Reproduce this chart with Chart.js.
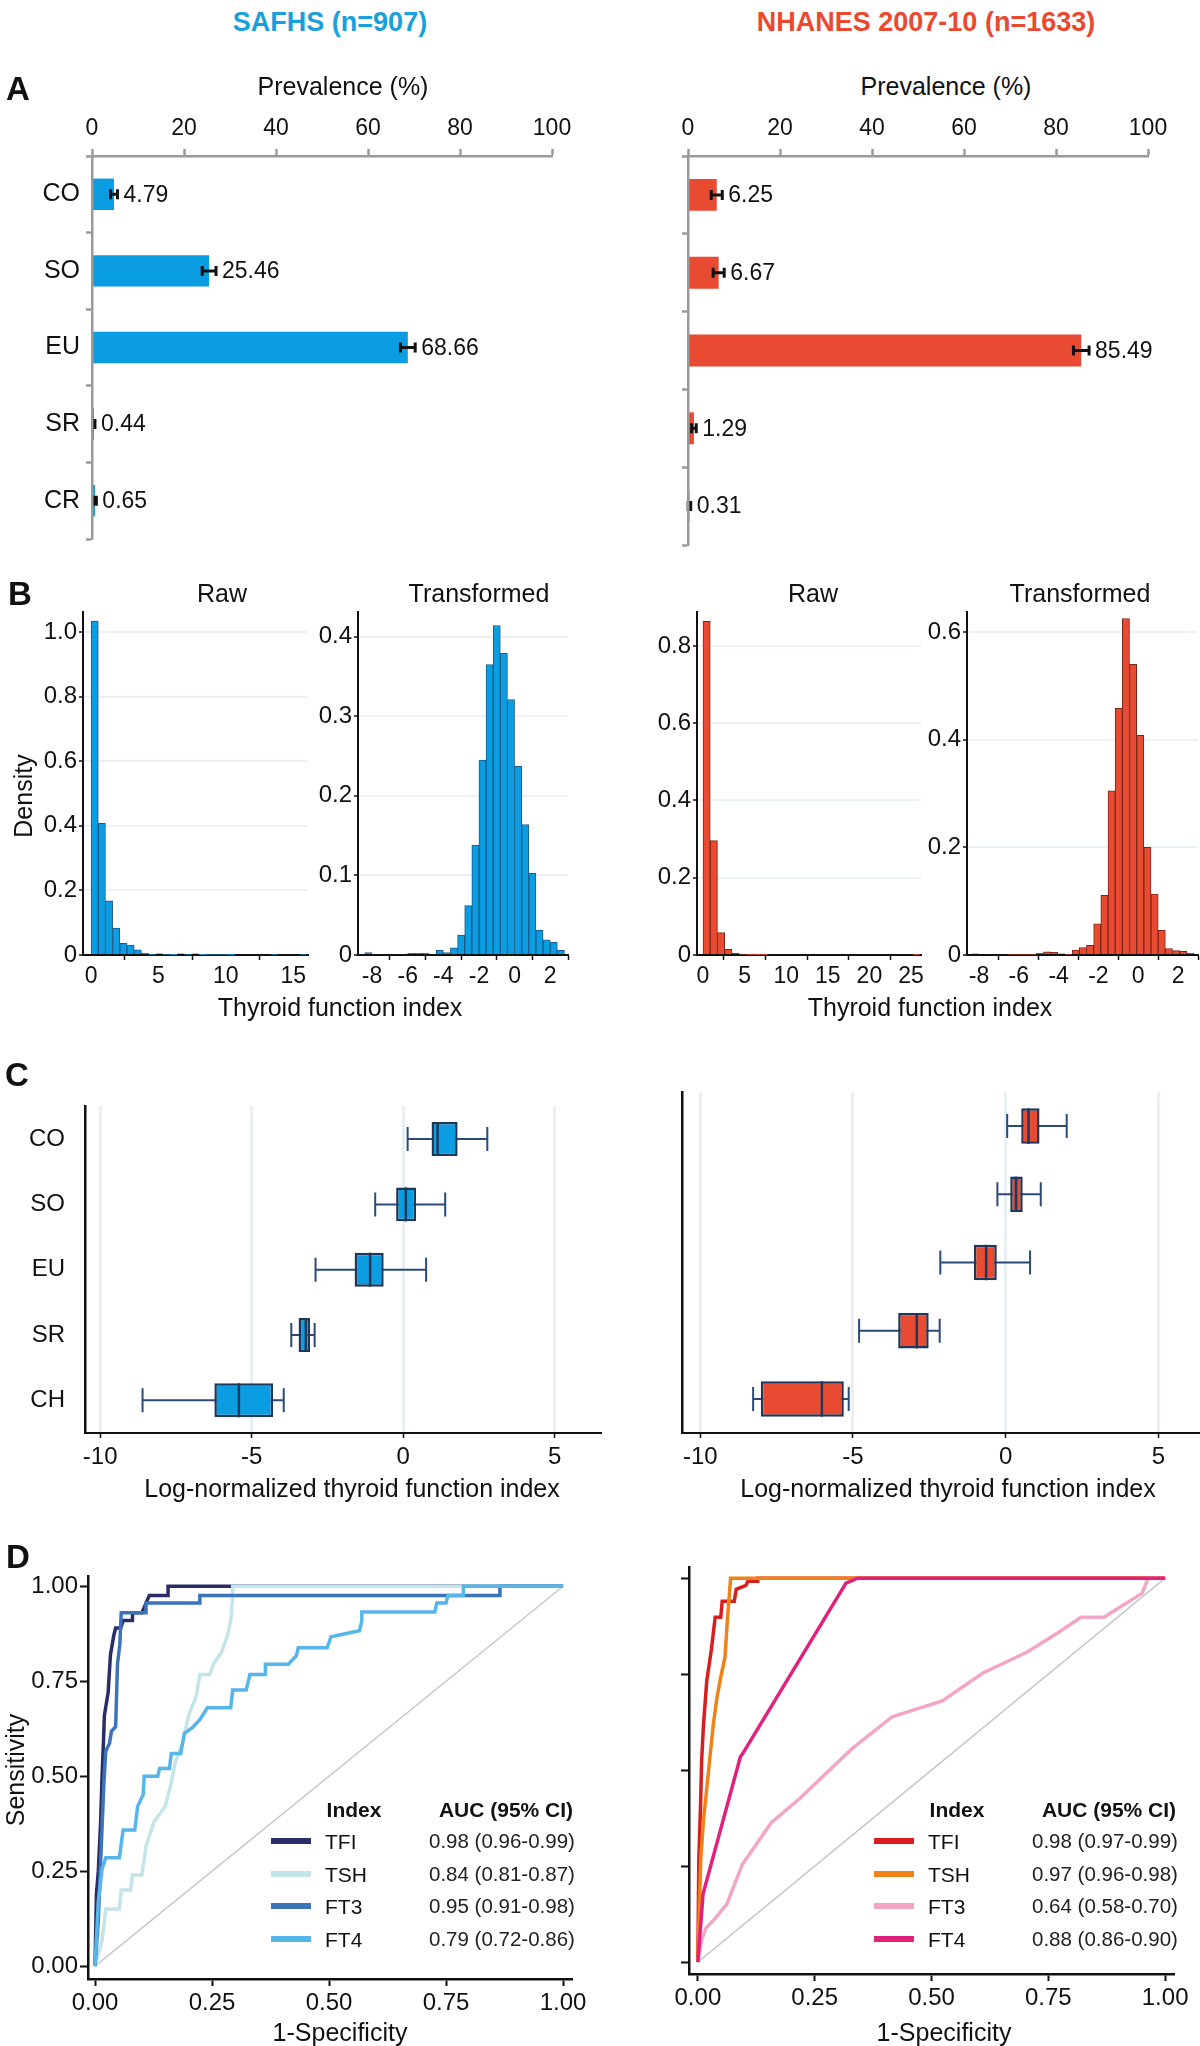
<!DOCTYPE html>
<html>
<head>
<meta charset="utf-8">
<script src="https://cdn.jsdelivr.net/npm/chart.js@4.4.1/dist/chart.umd.min.js"></script>
<style>
  html, body { margin: 0; padding: 0; background: #fff; }
  #fig { position: relative; width: 1200px; height: 2046px; overflow: hidden;
         font-family: 'Liberation Sans', Arial, Helvetica, sans-serif; color: #111; }
  #fig canvas { position: absolute; }
  .t { position: absolute; white-space: nowrap; line-height: 1; transform: translate(-50%, -50%); }
  .sw { position: absolute; height: 6px; width: 40px; transform: translateY(-50%); }
</style>
</head>
<body>
<div id="fig"></div>
<script>
// ---- panel A: prevalence (%) ----
const prevCats = ['CO', 'SO', 'EU', 'SR', 'CR'];
const safhsPrev = [4.79, 25.46, 68.66, 0.44, 0.65];
const safhsErr = [0.75, 1.5, 1.6, 0.2, 0.3];
const nhanesPrev = [6.25, 6.67, 85.49, 1.29, 0.31];
const nhanesErr = [1.2, 1.2, 1.7, 0.5, 0.28];

// ---- panel B: histograms (bin centre, density) ----
const safhsRawBins = [0.267, 0.8, 1.333, 1.867, 2.4, 2.933, 3.467, 4.0, 4.533, 5.067, 5.6, 6.133, 6.667, 7.2, 7.733,
  8.267, 8.8, 9.333, 9.867, 10.4, 10.933, 11.467, 12.0, 12.533, 13.067, 13.6, 14.133, 14.667, 15.2, 15.733];
const safhsRawDens = [1.034, 0.408, 0.168, 0.083, 0.036, 0.031, 0.016, 0.006, 0.002, 0.004, 0.002, 0.001, 0.004, 0.002, 0.004,
  0.001, 0.002, 0.002, 0.002, 0.001, 0, 0, 0, 0, 0, 0.002, 0, 0, 0, 0.002];
const safhsTrBins = [-9.0, -8.6, -8.2, -7.8, -7.4, -7.0, -6.6, -6.2, -5.8, -5.4, -5.0, -4.6, -4.2, -3.8, -3.4,
  -3.0, -2.6, -2.2, -1.8, -1.4, -1.0, -0.6, -0.2, 0.2, 0.6, 1.0, 1.4, 1.8, 2.2, 2.6];
const safhsTrDens = [0, 0, 0.003, 0, 0, 0, 0, 0, 0.002, 0.002, 0.002, 0, 0.006, 0.003, 0.009,
  0.025, 0.062, 0.138, 0.245, 0.365, 0.414, 0.379, 0.321, 0.237, 0.164, 0.103, 0.031, 0.019, 0.016, 0.006];
const nhanesRawBins = [0.435, 1.305, 2.175, 3.045, 3.915, 4.785, 5.655, 6.525, 7.395, 8.265, 9.135, 10.005, 10.875, 11.745, 12.615,
  13.485, 14.355, 15.225, 16.095, 16.965, 17.835, 18.705, 19.575, 20.445, 21.315, 22.185, 23.055, 23.925, 24.795, 25.665];
const nhanesRawDens = [0.864, 0.296, 0.058, 0.015, 0.004, 0.002, 0.001, 0.001, 0.001, 0, 0, 0, 0, 0, 0,
  0, 0, 0, 0, 0, 0, 0, 0, 0, 0, 0, 0, 0, 0, 0.0005];
const nhanesTrBins = [-8.54, -8.18, -7.82, -7.46, -7.1, -6.74, -6.38, -6.02, -5.66, -5.3, -4.94, -4.58, -4.22, -3.86, -3.5, -3.14,
  -2.78, -2.42, -2.06, -1.7, -1.34, -0.98, -0.62, -0.26, 0.1, 0.46, 0.82, 1.18, 1.54, 1.9, 2.26, 2.62];
const nhanesTrDens = [0, 0.002, 0, 0, 0, 0, 0.001, 0.001, 0.001, 0.001, 0.003, 0.006, 0.005, 0.002, 0.001, 0.009,
  0.014, 0.018, 0.058, 0.111, 0.305, 0.458, 0.625, 0.540, 0.408, 0.2, 0.113, 0.046, 0.012, 0.008, 0.007, 0.003];

// ---- panel C: box plots [lower whisker, Q1, median, Q3, upper whisker] ----
const boxCats = ['CO', 'SO', 'EU', 'SR', 'CH'];
const safhsBox = [[0.15, 0.94, 1.14, 1.8, 2.78], [-0.92, -0.23, 0.09, 0.43, 1.39], [-2.89, -1.6, -1.09, -0.64, 0.76],
  [-3.69, -3.45, -3.21, -3.07, -2.92], [-8.6, -6.23, -5.42, -4.29, -3.94]];
const nhanesBox = [[0.05, 0.51, 0.75, 1.11, 2.0], [-0.27, 0.15, 0.34, 0.56, 1.15], [-2.14, -1.04, -0.64, -0.29, 0.8],
  [-4.8, -3.52, -2.91, -2.52, -2.16], [-8.27, -8.02, -6.02, -5.3, -5.14]];

// ---- panel D: ROC curves [1-specificity, sensitivity] ----
const rocIndex = ['TFI', 'TSH', 'FT3', 'FT4'];
const safhsAuc = ['0.98 (0.96-0.99)', '0.84 (0.81-0.87)', '0.95 (0.91-0.98)', '0.79 (0.72-0.86)'];
const nhanesAuc = ['0.98 (0.97-0.99)', '0.97 (0.96-0.98)', '0.64 (0.58-0.70)', '0.88 (0.86-0.90)'];
const diagonal = [[0, 0], [1, 1]];
const safhsTFI = [[0, 0], [0.003, 0.19], [0.007, 0.25], [0.012, 0.38], [0.015, 0.5], [0.018, 0.59], [0.02, 0.66], [0.028, 0.72],
  [0.033, 0.82], [0.04, 0.87], [0.044, 0.89], [0.055, 0.89], [0.06, 0.91], [0.08, 0.91], [0.08, 0.93], [0.1, 0.93],
  [0.116, 0.976], [0.156, 0.976], [0.156, 1], [1, 1]];
const safhsTSH = [[0, 0], [0.015, 0.067], [0.023, 0.15], [0.052, 0.15], [0.056, 0.2], [0.076, 0.2], [0.08, 0.24], [0.1, 0.24],
  [0.109, 0.316], [0.126, 0.38], [0.15, 0.42], [0.163, 0.483], [0.171, 0.535], [0.187, 0.587], [0.2, 0.66], [0.216, 0.71],
  [0.224, 0.768], [0.245, 0.768], [0.253, 0.795], [0.27, 0.826], [0.282, 0.867], [0.29, 0.909], [0.294, 0.971], [0.294, 1], [1, 1]];
const safhsFT3 = [[0, 0], [0.007, 0.12], [0.012, 0.275], [0.019, 0.483], [0.023, 0.566], [0.031, 0.587], [0.035, 0.618],
  [0.044, 0.63], [0.048, 0.795], [0.053, 0.847], [0.056, 0.93], [0.109, 0.93], [0.109, 0.956], [0.224, 0.956], [0.224, 0.976],
  [0.865, 0.976], [0.865, 1], [1, 1]];
const safhsFT4 = [[0, 0], [0.007, 0.17], [0.015, 0.255], [0.023, 0.285], [0.052, 0.285], [0.06, 0.358], [0.085, 0.358],
  [0.091, 0.42], [0.103, 0.452], [0.105, 0.5], [0.134, 0.5], [0.138, 0.52], [0.159, 0.52], [0.163, 0.56], [0.183, 0.56],
  [0.191, 0.613], [0.208, 0.628], [0.224, 0.649], [0.24, 0.68], [0.29, 0.68], [0.294, 0.727], [0.323, 0.727], [0.331, 0.768],
  [0.364, 0.768], [0.364, 0.795], [0.413, 0.795], [0.43, 0.817], [0.434, 0.838], [0.496, 0.838], [0.504, 0.867], [0.565, 0.883],
  [0.57, 0.909], [0.57, 0.932], [0.726, 0.932], [0.73, 0.956], [0.75, 0.956], [0.754, 0.976], [0.787, 0.976], [0.787, 1], [1, 1]];
const nhanesTFI = [[0, 0], [0.002, 0.265], [0.006, 0.42], [0.008, 0.524], [0.012, 0.618], [0.019, 0.732], [0.029, 0.815],
  [0.037, 0.898], [0.049, 0.898], [0.052, 0.94], [0.078, 0.94], [0.082, 0.971], [0.103, 0.981], [0.107, 0.992], [0.128, 0.992],
  [0.128, 1], [1, 1]];
const nhanesTSH = [[0, 0], [0.006, 0.265], [0.012, 0.369], [0.025, 0.524], [0.033, 0.618], [0.041, 0.69], [0.049, 0.742],
  [0.058, 0.794], [0.063, 0.888], [0.07, 1], [1, 1]];
const nhanesFT3 = [[0, 0], [0.008, 0.057], [0.017, 0.088], [0.037, 0.114], [0.062, 0.151], [0.095, 0.254], [0.157, 0.363],
  [0.218, 0.426], [0.33, 0.556], [0.416, 0.639], [0.523, 0.68], [0.61, 0.753], [0.704, 0.807], [0.77, 0.857], [0.82, 0.898],
  [0.869, 0.898], [0.951, 0.961], [0.964, 1], [1, 1]];
const nhanesFT4 = [[0, 0], [0.011, 0.177], [0.091, 0.535], [0.096, 0.543], [0.317, 0.987], [0.342, 1], [1, 1]];

const BLUE = '#0b9de1', RED = '#e84b32';
const safhsRocColors = ['#2b2d66', '#c3e4e8', '#3b74b9', '#56b5e9'];
const nhanesRocColors = ['#d81e1e', '#f08219', '#f3a5c6', '#e0227c'];

Chart.defaults.font.family = "'Liberation Sans', Arial, Helvetica, sans-serif";
Chart.defaults.color = '#111';
Chart.defaults.animation = false;

const fig = document.getElementById('fig');

function canvasAt(x, y, w, h) {
  const c = document.createElement('canvas');
  c.width = w; c.height = h;
  c.style.left = x + 'px'; c.style.top = y + 'px';
  c.style.width = w + 'px'; c.style.height = h + 'px';
  fig.appendChild(c);
  return c;
}
function text(str, x, y, size, extra) {
  const d = document.createElement('div');
  d.className = 't';
  d.textContent = str;
  d.style.left = x + 'px'; d.style.top = y + 'px';
  d.style.fontSize = size + 'px';
  Object.assign(d.style, extra || {});
  fig.appendChild(d);
  return d;
}
const fixW = w => s => { s.width = w; };
const fixH = h => s => { s.height = h; };
const noLegend = { legend: { display: false }, tooltip: { enabled: false } };

// error bars + value labels for the prevalence bars
const errBars = {
  id: 'errBars',
  afterDatasetsDraw(chart, args, opts) {
    const { ctx, scales: { x, y } } = chart;
    const vals = chart.data.datasets[0].data;
    ctx.save();
    ctx.strokeStyle = '#111';
    ctx.fillStyle = '#111';
    ctx.lineWidth = 3;
    ctx.font = "23px 'Liberation Sans', Arial, sans-serif";
    ctx.textBaseline = 'middle';
    vals.forEach((v, i) => {
      const yc = y.getPixelForValue(i);
      const a = x.getPixelForValue(v - opts.errors[i]);
      const b = x.getPixelForValue(v + opts.errors[i]);
      ctx.beginPath();
      ctx.moveTo(a, yc); ctx.lineTo(b, yc);
      ctx.moveTo(a, yc - 5); ctx.lineTo(a, yc + 5);
      ctx.moveTo(b, yc - 5); ctx.lineTo(b, yc + 5);
      ctx.stroke();
      ctx.fillText(v.toFixed(2), b + 6, yc + 1);
    });
    ctx.restore();
  }
};

// whiskers and medians for the box plots
const whiskers = {
  id: 'whiskers',
  beforeDatasetsDraw(chart, args, opts) {
    const { ctx, scales: { x, y } } = chart;
    ctx.save();
    ctx.strokeStyle = '#2c4a78';
    ctx.lineWidth = 2;
    opts.stats.forEach((s, i) => {
      const yc = y.getPixelForValue(i);
      const a = x.getPixelForValue(s[0]), b = x.getPixelForValue(s[4]);
      ctx.beginPath();
      ctx.moveTo(a, yc); ctx.lineTo(b, yc);
      ctx.moveTo(a, yc - 12); ctx.lineTo(a, yc + 12);
      ctx.moveTo(b, yc - 12); ctx.lineTo(b, yc + 12);
      ctx.stroke();
    });
    ctx.restore();
  },
  afterDatasetsDraw(chart, args, opts) {
    const { ctx, scales: { x, y } } = chart;
    const bars = chart.getDatasetMeta(0).data;
    ctx.save();
    ctx.strokeStyle = '#1f3759';
    ctx.lineWidth = 2.5;
    opts.stats.forEach((s, i) => {
      const yc = y.getPixelForValue(i);
      const h = bars[i].height / 2;
      const m = x.getPixelForValue(s[2]);
      ctx.beginPath();
      ctx.moveTo(m, yc - h); ctx.lineTo(m, yc + h);
      ctx.stroke();
    });
    ctx.restore();
  }
};

// ---------- A ----------
function prevalenceChart(cv, values, errors, color, showCats, yW, padRight) {
  return new Chart(cv, {
    type: 'bar',
    data: {
      labels: prevCats,
      datasets: [{ data: values, backgroundColor: color, barPercentage: 0.41, categoryPercentage: 1 }]
    },
    options: {
      indexAxis: 'y', responsive: false, animation: false,
      layout: { padding: { left: 0, top: 0, right: padRight, bottom: 15 } },
      plugins: { ...noLegend, errBars: { errors } },
      scales: {
        x: {
          position: 'top', min: 0, max: 100,
          ticks: { stepSize: 20, font: { size: 23 }, padding: 7, maxRotation: 0 },
          grid: { drawOnChartArea: false, tickLength: 7, tickColor: '#9a9a9a', tickWidth: 2.5 },
          border: { color: '#9a9a9a', width: 2.5, z: 1 },
          afterFit: fixH(56)
        },
        y: {
          ticks: { display: showCats, font: { size: 25 }, padding: 6 },
          grid: { drawOnChartArea: false, offset: true, tickLength: 6, tickColor: '#9a9a9a', tickWidth: 2.5 },
          border: { color: '#9a9a9a', width: 2.5, z: 1 },
          afterFit: fixW(yW)
        }
      }
    },
    plugins: [errBars]
  });
}
prevalenceChart(canvasAt(0, 100, 600, 460), safhsPrev, safhsErr, BLUE, true, 92, 48);
prevalenceChart(canvasAt(600, 100, 600, 460), nhanesPrev, nhanesErr, RED, false, 88, 52);

// ---------- B ----------
function histChart(cv, bins, dens, o) {
  return new Chart(cv, {
    type: 'bar',
    data: {
      datasets: [{
        data: bins.map((b, i) => ({ x: b, y: dens[i] })),
        backgroundColor: o.fill, borderColor: o.edge, borderWidth: 1,
        barPercentage: 1, categoryPercentage: 1
      }]
    },
    options: {
      responsive: false, animation: false,
      layout: { padding: { left: 0, top: o.padTop, right: o.padRight, bottom: 0 } },
      plugins: noLegend,
      scales: {
        x: {
          type: 'linear', offset: false, min: o.xMin, max: o.xMax,
          ticks: { stepSize: o.xStep, includeBounds: false, font: { size: 23 }, padding: 3, maxRotation: 0 },
          grid: { drawOnChartArea: false, tickLength: 5, tickColor: '#111', tickWidth: 1.5 },
          border: { color: '#111', width: 2 },
          afterFit: fixH(o.xH)
        },
        y: {
          min: 0, max: o.yMax,
          ticks: { stepSize: o.yStep, includeBounds: false, font: { size: 24 }, padding: 2,
                   callback: v => (v === 0 ? '0' : v.toFixed(1)) },
          grid: { color: '#ebf2f5', lineWidth: 2, tickLength: 4, tickColor: '#111', tickWidth: 1.5 },
          border: { color: '#111', width: 2 },
          afterFit: fixW(o.yW)
        }
      }
    }
  });
}
const blueHist = { fill: BLUE, edge: '#1b5a8a' };
const redHist = { fill: RED, edge: '#7a2616' };
histChart(canvasAt(0, 595, 330, 410), safhsRawBins, safhsRawDens,
  { ...blueHist, padTop: 17, padRight: 22, xH: 50, yW: 83, xMin: -0.6, xMax: 16.1, xStep: 5, yMax: 1.062, yStep: 0.2 });
histChart(canvasAt(300, 595, 290, 410), safhsTrBins, safhsTrDens,
  { ...blueHist, padTop: 17, padRight: 22, xH: 50, yW: 58, xMin: -8.79, xMax: 3.0, xStep: 2, yMax: 0.431, yStep: 0.1 });
histChart(canvasAt(640, 595, 300, 410), nhanesRawBins, nhanesRawDens,
  { ...redHist, padTop: 17, padRight: 19, xH: 50, yW: 57, xMin: -0.72, xMax: 26.2, xStep: 5, yMax: 0.888, yStep: 0.2 });
histChart(canvasAt(910, 595, 290, 410), nhanesTrBins, nhanesTrDens,
  { ...redHist, padTop: 17, padRight: 2, xH: 50, yW: 57, xMin: -8.6, xMax: 3.0, xStep: 2, yMax: 0.637, yStep: 0.2 });

// ---------- C ----------
function boxChart(cv, stats, fill, showCats, yW, padRight, xMin, xMax) {
  return new Chart(cv, {
    type: 'bar',
    data: {
      labels: boxCats,
      datasets: [{
        data: stats.map(s => [s[1], s[3]]),
        backgroundColor: fill, borderColor: '#1f3759', borderWidth: 2.5, borderSkipped: false,
        barPercentage: 0.52, categoryPercentage: 1
      }]
    },
    options: {
      indexAxis: 'y', responsive: false, animation: false,
      layout: { padding: { left: 0, top: 12, right: padRight, bottom: 0 } },
      plugins: { ...noLegend, whiskers: { stats } },
      scales: {
        x: {
          min: xMin, max: xMax,
          ticks: { stepSize: 5, includeBounds: false, font: { size: 24 }, padding: 5, maxRotation: 0 },
          grid: { color: '#e8f0f4', lineWidth: 3, tickLength: 5, tickColor: '#111', tickWidth: 1.5 },
          border: { color: '#111', width: 2 },
          afterFit: fixH(47)
        },
        y: {
          ticks: { display: showCats, font: { size: 24 }, padding: 12 },
          grid: { display: false },
          border: { color: '#111', width: 2.5 },
          afterFit: fixW(yW)
        }
      }
    },
    plugins: [whiskers]
  });
}
boxChart(canvasAt(0, 1080, 620, 400), safhsBox, BLUE, true, 85, 20, -10.5, 6.5);
boxChart(canvasAt(600, 1080, 600, 400), nhanesBox, RED, false, 82, 2, -10.6, 6.3);

// ---------- D ----------
function rocChart(cv, series, colors, o) {
  const ds = series.map((pts, i) => ({
    data: pts.map(p => ({ x: p[0], y: p[1] })),
    borderColor: colors[i], borderWidth: 3.5, pointRadius: 0, tension: 0, fill: false, order: 4 - i
  }));
  ds.push({ data: diagonal.map(p => ({ x: p[0], y: p[1] })), borderColor: '#c8c8c8', borderWidth: 1.5,
            pointRadius: 0, fill: false, order: 10 });
  return new Chart(cv, {
    type: 'line',
    data: { datasets: ds },
    options: {
      responsive: false, animation: false,
      layout: { padding: { left: 0, top: o.padTop, right: o.padRight, bottom: 0 } },
      plugins: noLegend,
      scales: {
        x: {
          type: 'linear', min: o.xMin, max: o.xMax,
          ticks: { stepSize: 0.25, includeBounds: false, font: { size: 24 }, padding: 3, maxRotation: 0,
                   callback: v => v.toFixed(2) },
          grid: { drawOnChartArea: false, tickLength: 7, tickColor: '#111', tickWidth: 2 },
          border: { color: '#111', width: 2.5 },
          afterFit: fixH(o.xH)
        },
        y: {
          type: 'linear', min: o.yMin, max: o.yMax,
          ticks: { display: o.showY, stepSize: 0.25, includeBounds: false, font: { size: 24 }, padding: 2,
                   callback: v => v.toFixed(2) },
          grid: { drawOnChartArea: false, tickLength: 8, tickColor: '#111', tickWidth: 2 },
          border: { color: '#111', width: 2.5 },
          afterFit: fixW(o.yW)
        }
      }
    }
  });
}
rocChart(canvasAt(0, 1560, 600, 470), [safhsTFI, safhsTSH, safhsFT3, safhsFT4], safhsRocColors,
  { padTop: 11, padRight: 28, xH: 51, yW: 88, xMin: -0.015, xMax: 1.019, yMin: -0.034, yMax: 1.026, showY: true });
rocChart(canvasAt(600, 1555, 600, 475), [nhanesTFI, nhanesTSH, nhanesFT3, nhanesFT4], nhanesRocColors,
  { padTop: 12, padRight: 26, xH: 56, yW: 89, xMin: -0.019, xMax: 1.019, yMin: -0.031, yMax: 1.029, showY: false });

function rocLegend(x0, colors, auc) {
  const head = { fontWeight: 'bold' };
  text('Index', x0 + 83, 1809, 21, head);
  text('AUC (95% CI)', x0 + 235, 1809, 21, head);
  rocIndex.forEach((name, i) => {
    const y = 1841 + i * 32.7;
    const sw = document.createElement('div');
    sw.className = 'sw';
    sw.style.left = x0 + 'px'; sw.style.top = y + 'px'; sw.style.background = colors[i];
    fig.appendChild(sw);
    text(name, x0 + 54, y, 21, { transform: 'translateY(-50%)' });
    text(auc[i], x0 + 158, y, 20.5, { transform: 'translateY(-50%)', color: '#222' });
  });
}
rocLegend(271, safhsRocColors, safhsAuc);
rocLegend(874, nhanesRocColors, nhanesAuc);

// ---------- text ----------
text('SAFHS (n=907)', 330, 22, 27, { fontWeight: 'bold', color: '#19a0dc' });
text('NHANES 2007-10 (n=1633)', 926, 22, 27, { fontWeight: 'bold', color: '#e8492f' });
const letter = { fontWeight: 'bold' };
text('A', 18, 88, 33, letter);
text('B', 20, 593, 33, letter);
text('C', 17, 1074, 33, letter);
text('D', 18, 1556, 33, letter);
text('Prevalence (%)', 343, 86, 25);
text('Prevalence (%)', 946, 86, 25);
text('Raw', 222, 593, 25);
text('Transformed', 479, 593, 25);
text('Raw', 813, 593, 25);
text('Transformed', 1080, 593, 25);
text('Density', 23, 796, 25, { transform: 'translate(-50%, -50%) rotate(-90deg)' });
text('Thyroid function index', 340, 1007, 25);
text('Thyroid function index', 930, 1007, 25);
text('Log-normalized thyroid function index', 352, 1488, 25);
text('Log-normalized thyroid function index', 948, 1488, 25);
text('Sensitivity', 15, 1770, 25, { transform: 'translate(-50%, -50%) rotate(-90deg)' });
text('1-Specificity', 340, 2032, 25);
text('1-Specificity', 944, 2032, 25);
</script>
</body>
</html>
